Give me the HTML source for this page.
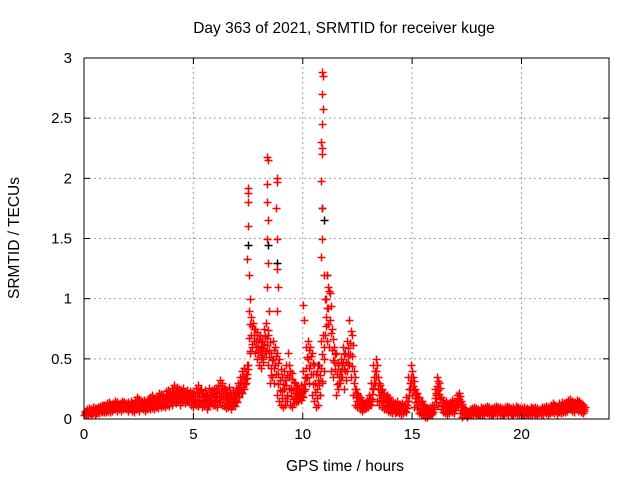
<!DOCTYPE html>
<html><head><meta charset="utf-8"><style>
body{margin:0;background:#fff;}
svg{display:block;font-family:"Liberation Sans",sans-serif;}
</style></head><body>
<svg id="chart" width="640" height="480">
<text x="344" y="33" text-anchor="middle" font-size="15.5">Day 363 of 2021, SRMTID for receiver kuge</text>
<text x="345" y="471" text-anchor="middle" font-size="15.5">GPS time / hours</text>
<text transform="translate(19,238) rotate(-90)" text-anchor="middle" font-size="15.5">SRMTID / TECUs</text>
<g id="grid"></g><g id="marks"></g><g id="axes"></g>
</svg>
<script>
const xTicks=[0,5,10,15,20];
const yTicks=[0,0.5,1,1.5,2,2.5,3];
const yTickLabels=["0","0.5","1","1.5","2","2.5","3"];
const baseLo=[.03,.03,.04,.04,.05,.04,.05,.05,.06,.06,
.06,.07,.06,.07,.08,.07,.08,.07,.08,.08,
.07,.08,.07,.06,.08,.07,.09,.08,.07,.08,
.08,.09,.08,.10,.09,.10,.11,.10,.12,.11,
.12,.14,.13,.15,.12,.14,.13,.15,.14,.12,
.10,.12,.11,.13,.10,.12,.08,.11,.13,.12,
.12,.10,.14,.12,.11,.09,.10,.08,.12,.11,
.14,.18,.22,.25,.30,.45,.55,.60,.55,.50,
.45,.42,.50,.55,.45,.30,.35,.30,.20,.15,
.12,.10,.12,.15,.12,.10,.13,.14,.15,.16,
.18,.25,.35,.30,.20,.15,.10,.12,.20,.30,
.70,.65,.60,.40,.35,.20,.25,.30,.35,.25,
.40,.45,.35,.20,.12,.10,.08,.07,.08,.10,
.10,.12,.25,.30,.15,.12,.10,.08,.08,.07,
.06,.05,.05,.06,.05,.04,.05,.06,.15,.25,
.20,.10,.08,.05,.04,.03,.02,.02,.03,.04,
.10,.20,.12,.08,.06,.05,.04,.05,.06,.05,
.10,.12,.05,.02,.03,.02,.03,.04,.03,.04,
.03,.04,.03,.04,.05,.04,.03,.04,.05,.04,
.04,.03,.04,.05,.04,.03,.04,.05,.04,.03,
.03,.04,.04,.03,.05,.04,.03,.04,.05,.04,
.04,.05,.04,.05,.06,.05,.04,.06,.05,.06,
.06,.07,.08,.07,.06,.08,.07,.06,.05];
const baseHi=[.07,.08,.09,.08,.10,.09,.10,.11,.12,.12,
.13,.14,.12,.13,.15,.14,.13,.15,.14,.13,
.14,.15,.13,.16,.18,.17,.15,.16,.14,.17,
.18,.20,.17,.19,.22,.21,.20,.23,.24,.22,
.26,.28,.27,.25,.24,.26,.22,.24,.23,.22,
.22,.26,.28,.25,.22,.24,.20,.26,.24,.25,
.26,.28,.32,.30,.25,.22,.27,.20,.24,.26,
.30,.35,.40,.42,.45,.90,.85,.80,.75,.72,
.70,.65,.75,.80,.70,.55,.65,.60,.55,.50,
.35,.40,.45,.55,.40,.38,.30,.28,.25,.28,
.40,.60,.65,.60,.55,.45,.40,.45,.65,.70,
1.00,1.20,1.05,.75,.60,.55,.45,.50,.60,.55,
.65,.82,.70,.40,.25,.20,.18,.15,.14,.16,
.20,.30,.45,.50,.35,.28,.25,.22,.20,.18,
.15,.14,.13,.15,.12,.13,.12,.18,.35,.45,
.35,.25,.22,.18,.15,.12,.10,.08,.10,.12,
.25,.35,.30,.18,.16,.15,.12,.14,.16,.15,
.20,.22,.15,.10,.08,.07,.08,.09,.10,.09,
.08,.10,.09,.10,.11,.10,.09,.10,.11,.10,
.10,.09,.10,.11,.10,.09,.10,.11,.10,.09,
.09,.10,.09,.08,.10,.09,.10,.09,.08,.10,
.10,.11,.10,.12,.13,.12,.11,.13,.14,.13,
.14,.16,.17,.15,.14,.16,.15,.13,.12];
const spikeT=[7.5,7.52,7.48,7.5,7.47,7.55,7.58,8.38,8.4,8.37,8.35,8.4,8.36,8.42,8.38,8.45,8.8,8.82,8.78,8.8,8.83,8.85,8.8,10.0,10.05,10.9,10.92,10.9,10.93,10.88,10.85,10.87,10.9,10.83,10.9,10.88,10.85,10.95,11.1,11.15,11.05];
const spikeV=[1.92,1.88,1.8,1.6,1.33,1.2,1.0,2.18,2.15,1.95,1.8,1.65,1.5,1.3,1.1,0.9,2.0,1.97,1.75,1.5,1.25,1.1,0.9,0.95,0.82,2.88,2.85,2.7,2.58,2.45,2.3,2.25,2.2,1.98,1.75,1.5,1.35,1.2,1.2,1.1,1.0];
const blackT=[7.52,8.43,8.82,10.9,10.95,8.1,10.7];
const blackV=[1.45,1.45,1.3,1.75,1.65,0.6,0.45];

const X0=84,X1=609,Y0=419,Y1=58;
const xs=v=>X0+v/24*(X1-X0);
const ys=v=>Y0-v/3*(Y0-Y1);
const NS="http://www.w3.org/2000/svg";
function mk(tag,attrs,parent){const e=document.createElementNS(NS,tag);for(const k in attrs)e.setAttribute(k,attrs[k]);parent.appendChild(e);return e;}
const grid=document.getElementById('grid'),marks=document.getElementById('marks'),axes=document.getElementById('axes');
xTicks.forEach(t=>{
  if(t>0){const g=mk('line',{x1:xs(t),x2:xs(t),y1:Y0,y2:Y1,stroke:'#a0a0a0','stroke-dasharray':'2,3'},grid);
  
  }
  const l=mk('text',{x:xs(t),y:Y0+20,'text-anchor':'middle','font-size':15},axes);l.textContent=String(t);
  
  
  mk('line',{x1:xs(t),x2:xs(t),y1:Y0,y2:Y0-6,stroke:'#000'},axes);
  mk('line',{x1:xs(t),x2:xs(t),y1:Y1,y2:Y1+6,stroke:'#000'},axes);
});
yTicks.forEach((t,i)=>{
  if(t>0&&t<3){const g=mk('line',{x1:X0,x2:X1,y1:ys(t),y2:ys(t),stroke:'#a0a0a0','stroke-dasharray':'2,3'},grid);
  
  }
  const l=mk('text',{x:X0-12,y:ys(t)+5,'text-anchor':'end','font-size':15},axes);l.textContent=yTickLabels[i];
  
  
  mk('line',{x1:X0,x2:X0+6,y1:ys(t),y2:ys(t),stroke:'#000'},axes);
  mk('line',{x1:X1,x2:X1-6,y1:ys(t),y2:ys(t),stroke:'#000'},axes);
});
const fr=mk('rect',{x:X0,y:Y1,width:X1-X0,height:Y0-Y1,fill:'none',stroke:'#000'},axes);


function plus(t,v,col){
  const x=Math.round(xs(t))+0.5,y=Math.round(ys(v))+0.5;
  const p=mk('path',{d:`M${x-4},${y}h8M${x},${y-4}v8`,stroke:col,'stroke-width':1.5,fill:'none'},marks);
  return p;
}
blackT.forEach((t,i)=>{const p=plus(t,blackV[i],'#000');
  
  });
baseLo.forEach((lo,i)=>{
  const t=i*0.1,hi=baseHi[i],mid=(lo+hi)/2;
  [[t,lo],[t+0.03,hi],[t+0.05,mid],[t+0.07,(lo+mid)/2],[t+0.09,(hi+mid)/2]].forEach(([tt,vv])=>{
    const p=plus(tt,vv,'#f00');
    
    
  });
});
spikeT.forEach((t,i)=>{const p=plus(t,spikeV[i],'#f00');
  
  });
</script>
</body></html>
